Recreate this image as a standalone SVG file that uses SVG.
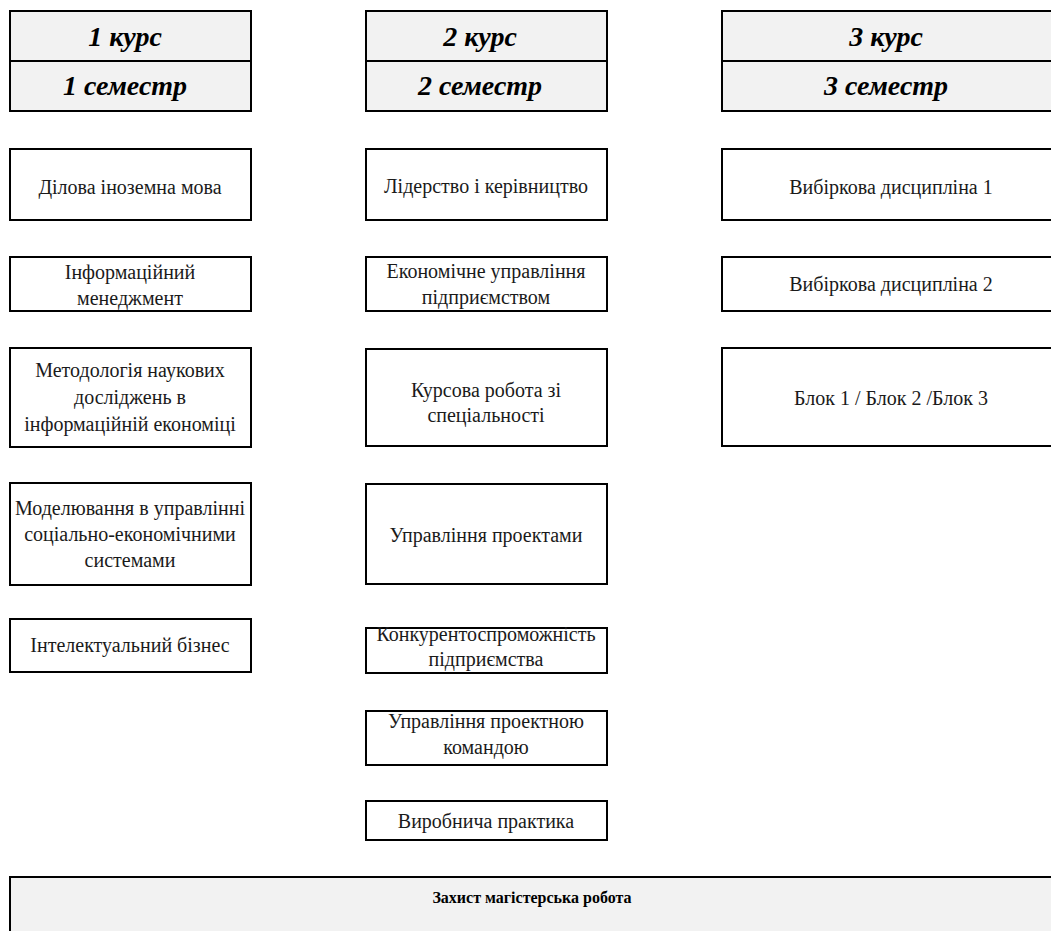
<svg xmlns="http://www.w3.org/2000/svg" width="1051" height="931" viewBox="0 0 1051 931">
<style>
.box{fill:#ffffff;stroke:#000000;stroke-width:2}
.hdr{fill:#f2f2f2;stroke:#000000;stroke-width:2}
.h{font-family:"Liberation Serif","Times New Roman",serif;font-size:28px;font-weight:bold;font-style:italic;text-anchor:middle;fill:#000}
.t{font-family:"Liberation Serif","Times New Roman",serif;font-size:20px;text-anchor:middle;fill:#1a1a1a}
.b{font-family:"Liberation Serif","Times New Roman",serif;font-size:16px;font-weight:bold;text-anchor:middle;fill:#000}
</style>
<rect width="1051" height="931" fill="#ffffff"/>
<g id="col1-header"><rect class="hdr" x="10" y="11" width="241" height="100"/><line x1="10" y1="61" x2="251" y2="61" stroke="#000" stroke-width="2"/><text class="h" x="125" y="46">1 курс</text><text class="h" x="125" y="95">1 семестр</text></g>
<g id="col2-header"><rect class="hdr" x="366" y="11" width="241" height="100"/><line x1="366" y1="61" x2="607" y2="61" stroke="#000" stroke-width="2"/><text class="h" x="480" y="46">2 курс</text><text class="h" x="480" y="95">2 семестр</text></g>
<g id="col3-header"><rect class="hdr" x="722" y="11" width="340" height="100"/><line x1="722" y1="61" x2="1062" y2="61" stroke="#000" stroke-width="2"/><text class="h" x="886" y="46">3 курс</text><text class="h" x="886" y="95">3 семестр</text></g>

<g id="c1b1"><rect class="box" x="10" y="149" width="241" height="71"/><text class="t" x="130" y="194">Ділова іноземна мова</text></g>
<g id="c1b2"><rect class="box" x="10" y="257" width="241" height="54"/><text class="t" x="130" y="279">Інформаційний</text><text class="t" x="130" y="305">менеджмент</text></g>
<g id="c1b3"><rect class="box" x="10" y="348" width="241" height="99"/><text class="t" x="130" y="377">Методологія наукових</text><text class="t" x="130" y="404">досліджень в</text><text class="t" x="130" y="431">інформаційній економіці</text></g>
<g id="c1b4"><rect class="box" x="10" y="483" width="241" height="102"/><text class="t" x="130" y="515">Моделювання в управлінні</text><text class="t" x="130" y="541">соціально-економічними</text><text class="t" x="130" y="567">системами</text></g>
<g id="c1b5"><rect class="box" x="10" y="619" width="241" height="53"/><text class="t" x="130" y="652">Інтелектуальний бізнес</text></g>

<g id="c2b1"><rect class="box" x="366" y="149" width="241" height="71"/><text class="t" x="486" y="193">Лідерство і керівництво</text></g>
<g id="c2b2"><rect class="box" x="366" y="257" width="241" height="54"/><text class="t" x="486" y="278">Економічне управління</text><text class="t" x="486" y="304">підприємством</text></g>
<g id="c2b3"><rect class="box" x="366" y="349" width="241" height="97"/><text class="t" x="486" y="397">Курсова робота зі</text><text class="t" x="486" y="422">спеціальності</text></g>
<g id="c2b4"><rect class="box" x="366" y="484" width="241" height="100"/><text class="t" x="486" y="542">Управління проектами</text></g>
<g id="c2b5"><rect class="box" x="366" y="628" width="241" height="45"/><text class="t" x="486" y="641">Конкурентоспроможність</text><text class="t" x="486" y="666">підприємства</text></g>
<g id="c2b6"><rect class="box" x="366" y="711" width="241" height="54"/><text class="t" x="486" y="728">Управління проектною</text><text class="t" x="486" y="754">командою</text></g>
<g id="c2b7"><rect class="box" x="366" y="801" width="241" height="39"/><text class="t" x="486" y="828">Виробнича практика</text></g>

<g id="c3b1"><rect class="box" x="722" y="149" width="340" height="71"/><text class="t" x="891" y="194">Вибіркова дисципліна 1</text></g>
<g id="c3b2"><rect class="box" x="722" y="257" width="340" height="54"/><text class="t" x="891" y="291">Вибіркова дисципліна 2</text></g>
<g id="c3b3"><rect class="box" x="722" y="348" width="340" height="98"/><text class="t" x="891" y="405">Блок 1 / Блок 2 /Блок 3</text></g>

<g id="defense"><rect class="hdr" x="10" y="877" width="1060" height="80"/><text class="b" x="532" y="903">Захист магістерська робота</text></g>
<g id="connectors"></g>
</svg>
